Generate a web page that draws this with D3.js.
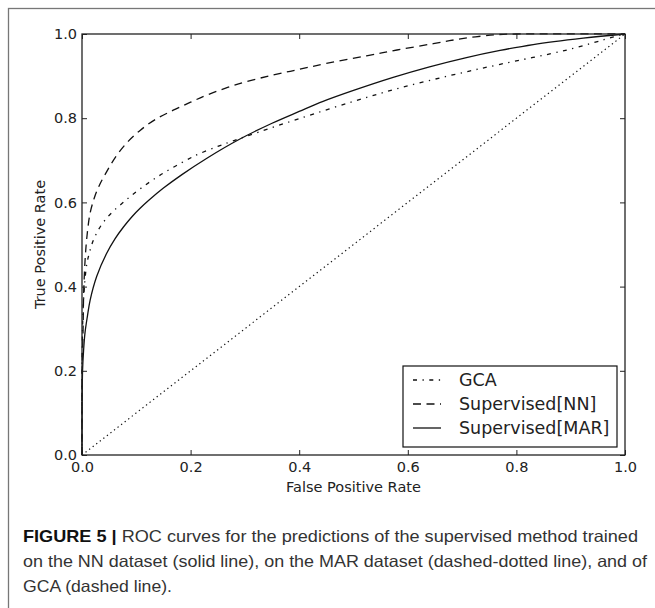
<!DOCTYPE html>
<html>
<head>
<meta charset="utf-8">
<script src="https://cdn.jsdelivr.net/npm/d3@7"></script>
<style>
  body { margin: 0; background: #fff; }
  svg { display: block; }
  .tick-label, .axis-title, .legend-text { font-family: "DejaVu Sans", sans-serif; fill: #222; }
  .caption { font-family: "Liberation Sans", Arial, sans-serif; fill: #333; }
</style>
</head>
<body>
<div id="chart"></div>
<script>
// Chart data
let xTicks = [0.0, 0.2, 0.4, 0.6, 0.8, 1.0];
let yTicks = [0.0, 0.2, 0.4, 0.6, 0.8, 1.0];

let gcaFpr = [0, 0, 0.001, 0.0025, 0.005, 0.009, 0.013, 0.018, 0.025, 0.035, 0.047, 0.06, 0.075, 0.09, 0.11, 0.131, 0.153, 0.193, 0.215, 0.25, 0.28, 0.325, 0.4, 0.5, 0.586, 0.68, 0.77, 0.893, 0.979, 1];
let gcaTpr = [0, 0.2, 0.3, 0.36, 0.41, 0.455, 0.477, 0.5, 0.522, 0.545, 0.565, 0.582, 0.599, 0.615, 0.635, 0.654, 0.672, 0.701, 0.715, 0.733, 0.747, 0.767, 0.799, 0.84, 0.872, 0.902, 0.928, 0.962, 0.993, 1];

let nnFpr = [0, 0, 0.0005, 0.002, 0.003, 0.006, 0.01, 0.015, 0.022, 0.031, 0.045, 0.064, 0.085, 0.107, 0.135, 0.168, 0.2, 0.23, 0.29, 0.35, 0.4, 0.45, 0.524, 0.58, 0.647, 0.7, 0.76, 0.8, 1];
let nnTpr = [0, 0.15, 0.22, 0.3, 0.38, 0.47, 0.53, 0.575, 0.608, 0.638, 0.672, 0.712, 0.745, 0.771, 0.797, 0.819, 0.838, 0.855, 0.882, 0.902, 0.916, 0.93, 0.948, 0.962, 0.977, 0.989, 0.998, 1, 1];

let marFpr = [0, 0, 0.001, 0.003, 0.0055, 0.01, 0.015, 0.027, 0.045, 0.061, 0.076, 0.092, 0.107, 0.123, 0.15, 0.184, 0.23, 0.29, 0.35, 0.4, 0.444, 0.5, 0.573, 0.64, 0.708, 0.77, 0.831, 0.923, 1];
let marTpr = [0, 0.05, 0.2, 0.25, 0.29, 0.33, 0.368, 0.424, 0.478, 0.514, 0.541, 0.566, 0.586, 0.605, 0.634, 0.666, 0.705, 0.75, 0.788, 0.816, 0.84, 0.866, 0.897, 0.922, 0.944, 0.961, 0.975, 0.99, 1];

let chanceFpr = [0, 1];
let chanceTpr = [0, 1];

let seriesNames = ["GCA", "Supervised[NN]", "Supervised[MAR]"];
let seriesDash = ["4,5.5,1.3,5.5", "8,5.5", null];

let captionBold = "FIGURE 5 |";
let captionLines = [
    " ROC curves for the predictions of the supervised method trained",
    "on the NN dataset (solid line), on the MAR dataset (dashed-dotted line), and of",
    "GCA (dashed line)."
];

// Set the margins
let svgWidth = 655;
let svgHeight = 608;

let margin = { top: 34, right: 30, bottom: 153, left: 82 };
let width = svgWidth - margin.left - margin.right;
let height = svgHeight - margin.top - margin.bottom;

let svg = d3.select("#chart")
    .append("svg")
    .attr("width", svgWidth)
    .attr("height", svgHeight);

// figure frame (only top and left edges fall inside the picture)
svg.append("rect")
    .attr("x", 8.5)
    .attr("y", 8.5)
    .attr("width", 800)
    .attr("height", 800)
    .attr("fill", "none")
    .attr("stroke", "#777")
    .attr("stroke-width", 1.3);

let chartGroup = svg.append("g")
    .attr("transform", `translate(${margin.left}, ${margin.top})`);

let xScale = d3.scaleLinear().domain([0, 1]).range([0, width]);
let yScale = d3.scaleLinear().domain([0, 1]).range([height, 0]);

// inward ticks on all four sides, matplotlib style
let tickLen = 5;
let fmt = d3.format(".1f");

chartGroup.append("g")
    .attr("transform", `translate(0, ${height})`)
    .call(d3.axisBottom(xScale).tickValues(xTicks).tickSize(-tickLen).tickPadding(7).tickFormat(fmt))
    .call(g => g.select(".domain").remove())
    .call(g => g.selectAll("line").attr("stroke", "#222"))
    .call(g => g.selectAll("text").attr("class", "tick-label").attr("font-size", 14.5).attr("fill", "#222"));

chartGroup.append("g")
    .call(d3.axisLeft(yScale).tickValues(yTicks).tickSize(-tickLen).tickPadding(5).tickFormat(fmt))
    .call(g => g.select(".domain").remove())
    .call(g => g.selectAll("line").attr("stroke", "#222"))
    .call(g => g.selectAll("text").attr("class", "tick-label").attr("font-size", 14.5).attr("fill", "#222"));

chartGroup.append("g")
    .call(d3.axisTop(xScale).tickValues(xTicks).tickSize(-tickLen).tickFormat(""))
    .call(g => g.select(".domain").remove())
    .call(g => g.selectAll("line").attr("stroke", "#222"));

chartGroup.append("g")
    .attr("transform", `translate(${width}, 0)`)
    .call(d3.axisRight(yScale).tickValues(yTicks).tickSize(-tickLen).tickFormat(""))
    .call(g => g.select(".domain").remove())
    .call(g => g.selectAll("line").attr("stroke", "#222"));

// curves
let line = d3.line()
    .x(d => xScale(d[0]))
    .y(d => yScale(d[1]))
    .curve(d3.curveCatmullRom.alpha(0.5));

let curves = [
    d3.zip(gcaFpr, gcaTpr),
    d3.zip(nnFpr, nnTpr),
    d3.zip(marFpr, marTpr)
];

chartGroup.append("path")
    .datum(d3.zip(chanceFpr, chanceTpr))
    .attr("d", d3.line().x(d => xScale(d[0])).y(d => yScale(d[1])))
    .attr("fill", "none")
    .attr("stroke", "#111")
    .attr("stroke-width", 1.2)
    .attr("stroke-dasharray", "1.3,3.2");

curves.forEach((pts, i) => {
    chartGroup.append("path")
        .datum(pts)
        .attr("d", line)
        .attr("fill", "none")
        .attr("stroke", "#111")
        .attr("stroke-width", 1.3)
        .attr("stroke-dasharray", seriesDash[i]);
});

// plot frame
chartGroup.append("rect")
    .attr("width", width)
    .attr("height", height)
    .attr("fill", "none")
    .attr("stroke", "#222")
    .attr("stroke-width", 1.3);

// axis titles
chartGroup.append("text")
    .attr("class", "axis-title")
    .attr("x", width / 2)
    .attr("y", height + 37)
    .attr("text-anchor", "middle")
    .attr("font-size", 14.5)
    .text("False Positive Rate");

chartGroup.append("text")
    .attr("class", "axis-title")
    .attr("transform", "rotate(-90)")
    .attr("x", -height / 2)
    .attr("y", -37)
    .attr("text-anchor", "middle")
    .attr("font-size", 14.5)
    .text("True Positive Rate");

// legend
let legend = svg.append("g").attr("transform", "translate(403, 366)");
legend.append("rect")
    .attr("width", 214)
    .attr("height", 81)
    .attr("fill", "#fff")
    .attr("stroke", "#111")
    .attr("stroke-width", 1.2);

seriesNames.forEach((name, i) => {
    let yy = 14 + i * 24;
    legend.append("line")
        .attr("x1", 10).attr("x2", 38)
        .attr("y1", yy).attr("y2", yy)
        .attr("stroke", "#111")
        .attr("stroke-width", 1.3)
        .attr("stroke-dasharray", seriesDash[i]);
    legend.append("text")
        .attr("class", "legend-text")
        .attr("x", 56)
        .attr("y", yy)
        .attr("dy", "0.36em")
        .attr("font-size", 17.5)
        .text(name);
});

// caption
let captionWidths = [615, 624, 149];
captionLines.forEach((txt, i) => {
    let t = svg.append("text")
        .attr("class", "caption")
        .attr("x", 23)
        .attr("y", 542 + i * 25)
        .attr("font-size", 16.5)
        .attr("textLength", captionWidths[i])
        .attr("lengthAdjust", "spacingAndGlyphs");
    if (i === 0) {
        t.append("tspan").attr("font-weight", "bold").attr("fill", "#111").text(captionBold);
    }
    t.append("tspan").text(txt);
});
</script>
</body>
</html>
